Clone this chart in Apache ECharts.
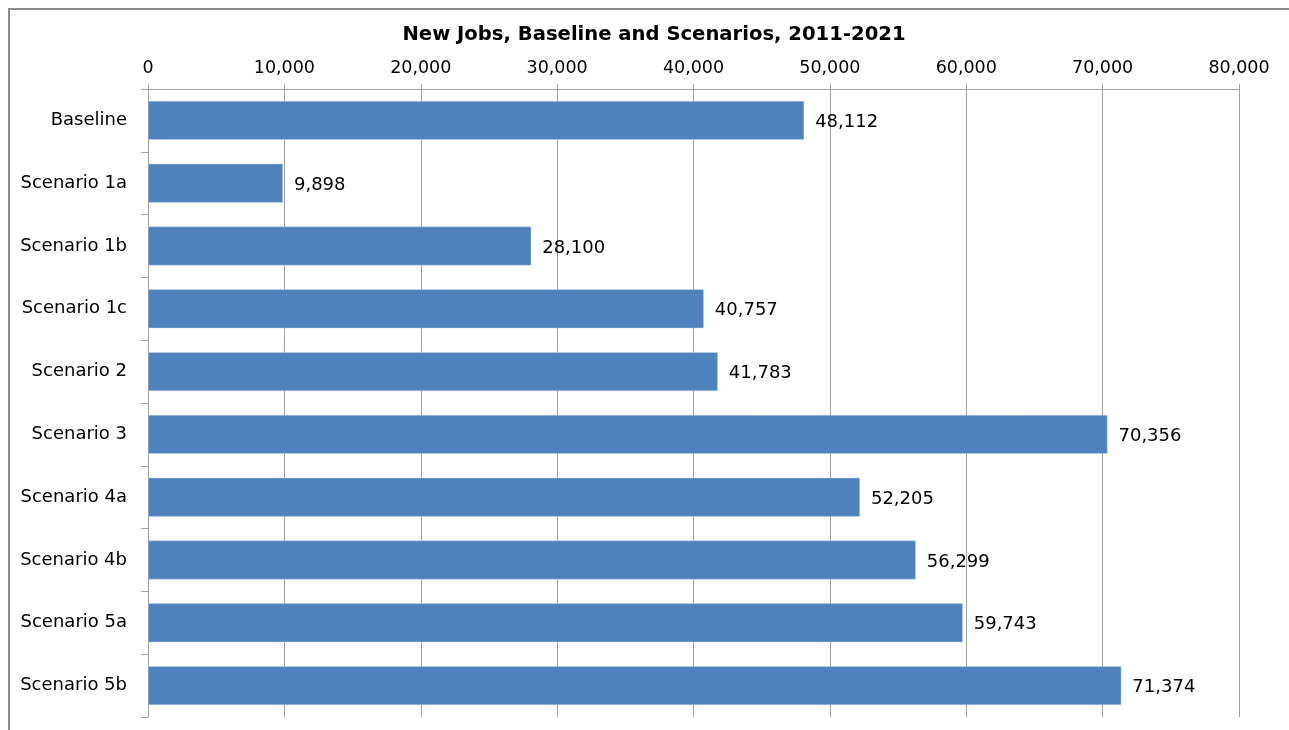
<!DOCTYPE html>
<html><head><meta charset="utf-8">
<script src="https://cdn.jsdelivr.net/npm/echarts@6/dist/echarts.min.js"></script>
<style>html,body{margin:0;padding:0;background:#fff}#frame{position:absolute;left:8px;top:8px;width:1300px;height:740px;border-left:2px solid #8c8c8c;border-top:2px solid #8c8c8c}#c{position:absolute;left:0;top:0;width:1289px;height:730px}</style>
</head><body><div id="frame"></div><div id="c"></div>
<script>
const categories = ["Baseline","Scenario 1a","Scenario 1b","Scenario 1c","Scenario 2","Scenario 3","Scenario 4a","Scenario 4b","Scenario 5a","Scenario 5b"];
const newJobs = [48112, 9898, 28100, 40757, 41783, 70356, 52205, 56299, 59743, 71374];
const xTicks = [0, 10000, 20000, 30000, 40000, 50000, 60000, 70000, 80000];
const fmt = v => v.toLocaleString('en-US');
const chart = echarts.init(document.getElementById('c'));
chart.setOption({
  animation: false,
  title: {text: 'New Jobs, Baseline and Scenarios, 2011-2021', left: 649, top: 20, textAlign: 'center',
    textStyle: {fontFamily: 'DejaVu Sans', fontSize: 19.6, fontWeight: 'bold', color: '#000'}},
  grid: {left: 148, right: 50, top: 89, bottom: 13, containLabel: false},
  xAxis: {type: 'value', position: 'top', min: xTicks[0], max: xTicks[xTicks.length-1], interval: 10000,
    axisLine: {show: true, lineStyle: {color: '#a0a0a0', width: 1}},
    axisTick: {show: true, length: 5, lineStyle: {color: '#a0a0a0'}},
    splitLine: {show: true, lineStyle: {color: '#a0a0a0', width: 1}},
    axisLabel: {fontFamily: 'DejaVu Sans', fontSize: 17.5, color: '#000', margin: 12, formatter: v => fmt(v)}},
  yAxis: {type: 'category', inverse: true, data: categories,
    axisLine: {show: true, lineStyle: {color: '#a0a0a0', width: 1}},
    axisTick: {show: true, length: 7, lineStyle: {color: '#a0a0a0'}},
    axisLabel: {fontFamily: 'DejaVu Sans', fontSize: 18, color: '#000', margin: 21, padding: [4, 0, 0, 0]}},
  series: [{type: 'bar', data: newJobs, barCategoryGap: '38%',
    itemStyle: {color: '#4f81bd', borderColor: '#c6d6ea', borderWidth: 0.5},
    label: {show: true, position: 'right', distance: 11, offset: [0, 2], fontFamily: 'DejaVu Sans', fontSize: 18, color: '#000', formatter: p => fmt(p.value)}}]
});
</script></body></html>
